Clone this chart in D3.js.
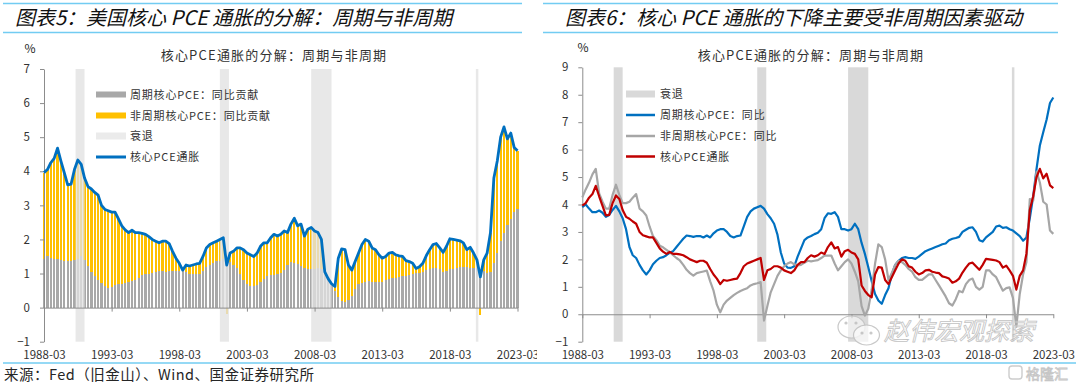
<!DOCTYPE html>
<html>
<head>
<meta charset="utf-8">
<script src="https://cdn.jsdelivr.net/npm/d3@7"></script>
<style>
  body { margin: 0; background: #fff; }
  svg { display: block; }
  text { font-family: "Noto Sans CJK SC", sans-serif; fill: #262626; }
</style>
</head>
<body>
<svg id="canvas"></svg>
<script>
var w = 1080;
var h = 387;

// quarterly observations, 1988-03 ... 2023-03
var corePce = [
  3.96, 4.05, 4.25, 4.38,  4.68, 4.3, 3.95, 3.6,  3.62, 4.05, 4.33, 4.2,  3.8, 3.55, 3.48, 3.38,
  3.3, 3.0, 2.88, 2.84,  2.8, 2.8, 2.6, 2.4,  2.28, 2.2, 2.27, 2.2,  2.2, 2.18, 2.15, 2.08,
  2.0, 1.95, 1.9, 1.95,  1.95, 1.88, 1.65, 1.45,  1.3, 1.1, 1.25, 1.22,  1.25, 1.28, 1.3, 1.5,
  1.75, 1.85, 1.9, 1.95,  2.0, 2.05, 1.25, 1.6,  1.65, 1.75, 1.75, 1.7,  1.6, 1.55, 1.5, 1.6,
  1.8, 1.9, 1.9, 2.05,  2.15, 2.1, 2.15, 2.25,  2.2, 2.45, 2.62, 2.4,  2.45, 2.1, 2.3, 2.35,
  2.25, 2.2, 2.0, 1.05,  0.85, 0.7, 0.62, 1.45,  1.72, 1.7, 1.25, 1.1,  1.35, 1.6, 1.85, 2.0,
  1.95, 1.75, 1.7, 1.55,  1.45, 1.5, 1.6, 1.62,  1.55, 1.52, 1.5, 1.38,  1.35, 1.3, 1.15, 1.2,
  1.3, 1.52, 1.7, 1.85,  1.88, 1.75, 1.62, 1.8,  2.02, 2.0, 1.98, 1.96,  1.9, 1.7, 1.77, 1.6,
  1.4, 0.9, 1.4, 1.6,  2.2, 3.8, 4.3, 5.0,  5.3, 4.95, 5.12, 4.7,  4.6
];
var cycContrib = [
  1.43, 1.5, 1.45, 1.42,  1.42, 1.4, 1.38, 1.38,  1.38, 1.4, 1.43, 1.5,  1.4, 1.23, 1.05, 0.92,
  0.8, 0.72, 0.62, 0.58,  0.6, 0.65, 0.68, 0.7,  0.72, 0.75, 0.78, 0.82,  0.88, 0.95, 0.99, 1.0,
  1.02, 1.04, 1.06, 1.06,  1.05, 1.06, 1.06, 1.06,  1.06, 1.06, 1.04, 1.0,  1.0, 1.0, 1.0, 1.06,
  1.18, 1.25, 1.32, 1.36,  1.38, 1.42, 1.43, 1.35,  1.25, 1.15, 1.0, 0.82,  0.68, 0.62, 0.62, 0.66,
  0.75, 0.85, 0.92, 0.95,  0.97, 0.99, 1.02, 1.1,  1.25, 1.33, 1.32, 1.28,  1.22, 1.15, 1.14, 1.13,
  1.14, 1.15, 1.13, 0.95,  0.85, 0.68, 0.5, 0.32,  0.2, 0.16, 0.22, 0.35,  0.55, 0.68, 0.72, 0.76,
  0.77, 0.76, 0.76, 0.74,  0.75, 0.8, 0.85, 0.87,  0.88, 0.9, 0.92, 0.94,  0.95, 0.98, 1.02, 1.03,
  1.05, 1.1, 1.14, 1.16,  1.17, 1.12, 1.05, 1.08,  1.12, 1.14, 1.16, 1.18,  1.19, 1.18, 1.17, 1.15,
  1.15, 1.11, 1.07, 1.01,  1.05, 1.3, 1.6, 1.95,  2.2, 2.42, 2.6, 2.8,  2.9
];
var cycYoy = [
  3.9, 4.0, 3.85, 3.72,  3.72, 3.78, 3.7, 3.55,  3.62, 3.8, 3.95, 3.75,  3.5, 3.1, 2.45, 2.15,
  2.05, 1.8, 1.6, 1.45,  1.6, 1.82, 1.95, 2.05,  2.08, 2.15, 2.25, 2.3,  2.45, 2.6, 2.75, 2.87,
  2.85, 2.82, 2.85, 2.85,  2.8, 2.87, 2.8, 2.95,  3.05, 3.1, 3.1, 3.0,  2.85, 2.8, 2.85, 2.87,
  3.2, 3.55, 3.75, 3.85,  3.9, 3.95, 3.85, 3.65,  3.5, 3.3, 2.9, 2.25,  1.85, 1.7, 1.69, 1.75,
  2.1, 2.4, 2.7, 2.8,  2.85, 2.92, 2.97, 3.1,  3.5, 3.68, 3.66, 3.72,  3.55, 3.1, 3.1, 3.05,
  3.1, 3.3, 3.1, 2.6,  2.2, 1.71, 1.2, 0.74,  0.5, 0.38, 0.7, 0.95,  1.45, 1.8, 1.95, 2.05,
  2.08, 2.05, 2.05, 2.02,  2.1, 2.2, 2.3, 2.35,  2.4, 2.45, 2.5, 2.55,  2.58, 2.7, 2.75, 2.78,
  2.82, 3.0, 3.08, 3.15,  3.17, 3.0, 2.7, 2.65,  2.8, 2.9, 3.0, 3.2,  3.23, 3.15, 3.17, 3.1,
  3.05, 2.95, 2.85, 2.68,  2.8, 3.5, 4.3, 5.3,  6.15, 6.63, 7.1, 7.7,  7.9
];
var acycYoy = [
  4.26, 4.55, 4.8, 5.1,  5.3, 4.4, 4.1, 3.85,  3.85, 4.35, 4.72, 4.35,  4.05, 4.05, 4.1, 4.25,
  4.38, 3.85, 3.75, 3.6,  3.2, 2.85, 2.7, 2.5,  2.44, 2.35, 2.26, 2.15,  2.05, 1.96, 1.8, 1.62,
  1.5, 1.41, 1.5, 1.53,  1.56, 1.59, 1.2, 0.86,  0.35, 0.07, 0.35, 0.5,  0.6, 0.7, 0.78, 0.85,
  0.9, 0.95, 1.05, 1.1,  1.13, 1.17, -0.23, 0.3,  0.8, 1.1, 1.4, 1.6,  1.75, 1.85, 1.9, 1.82,
  1.78, 1.8, 1.88, 1.95,  1.93, 1.95, 1.97, 2.05,  2.14, 2.14, 2.14, 1.85,  1.6, 1.75, 1.9, 2.0,
  1.85, 1.55, 1.2, 0.3,  -0.05, 0.2, 0.9, 1.84,  2.55, 2.45, 2.0, 1.25,  1.5, 1.8, 1.95, 1.9,
  1.8, 1.65, 1.55, 1.35,  1.25, 1.25, 1.35, 1.45,  1.45, 1.25, 1.05, 0.85,  0.65, 0.4, 0.32, 0.55,
  0.85, 0.8, 1.1, 1.25,  1.3, 1.0, 0.9, 1.0,  1.6, 1.6, 1.45, 1.35,  1.1, 0.86, 0.95, 0.98,
  0.6, -0.45, 0.74, 1.45,  1.9, 4.2, 4.14, 5.2,  4.8, 4.1, 4.0, 3.05,  2.93
];

var xTickLabels = ["1988-03", "1993-03", "1998-03", "2003-03", "2008-03", "2013-03", "2018-03", "2023-03"];
var yTicksL = [-1, 0, 1, 2, 3, 4, 5, 6, 7];
var yTicksR = [-1, 0, 1, 2, 3, 4, 5, 6, 7, 8, 9];
var recessions = [["1990-07", "1991-03"], ["2001-03", "2001-11"], ["2007-12", "2009-06"], ["2020-02", "2020-04"]];

var legendL = ["周期核心PCE：同比贡献", "非周期核心PCE：同比贡献", "衰退", "核心PCE通胀"];
var legendR = ["衰退", "周期核心PCE：同比", "非周期核心PCE：同比", "核心PCE通胀"];

var parseYM = d3.timeParse("%Y-%m");
var dates = corePce.map(function (d, i) { return new Date(1988, 2 + 3 * i, 1); });
var acycContrib = corePce.map(function (d, i) { return d - cycContrib[i]; });

var numFont = '"Liberation Sans", Arial, sans-serif';
var axisCol = "#8c8c8c";
var lineBlue = "#0070c0";
var labelTop = 351.3; // top of the date labels under both panels

var svg = d3.select("#canvas")
  .attr("width", w)
  .attr("height", h)
  .attr("viewBox", [0, 0, w, h]);

var defs = svg.append("defs");
defs.append("clipPath").attr("id", "clipL")
  .append("rect").attr("x", 0).attr("y", 0).attr("width", 537).attr("height", h);
defs.append("clipPath").attr("id", "clipR")
  .append("rect").attr("x", 540).attr("y", 0).attr("width", 537).attr("height", h);

// header / footer rules
var rules = [[3, 3.5, 522], [3, 32.5, 522], [543, 3.5, 1058], [543, 32.5, 1058], [3, 363, 1076]];
svg.selectAll(".rule").data(rules).enter().append("line")
  .attr("x1", d => d[0]).attr("x2", d => d[2])
  .attr("y1", d => d[1]).attr("y2", d => d[1])
  .attr("stroke", "#72ccf2").attr("stroke-width", 1.3);

svg.append("text").attr("x", 15).attr("y", 25)
  .attr("font-size", 20).attr("font-style", "italic").style("fill", "#111")
  .text("图表5：美国核心 PCE 通胀的分解：周期与非周期");
svg.append("text").attr("x", 565).attr("y", 25)
  .attr("font-size", 20).attr("font-style", "italic").style("fill", "#111")
  .text("图表6：核心 PCE 通胀的下降主要受非周期因素驱动");

svg.append("text").attr("x", 4).attr("y", 380).attr("font-size", 14.5).attr("letter-spacing", 0.5)
  .text("来源：Fed（旧金山）、Wind、国金证券研究所");

function styleAxis(g) {
  g.attr("font-family", numFont).attr("font-size", 11.5).attr("color", axisCol);
  g.selectAll("text").style("fill", "#333");
  g.selectAll("path, line").attr("stroke", axisCol);
}

// ---------- left panel ----------
var gL = svg.append("g").attr("clip-path", "url(#clipL)");
var xL = d3.scaleTime().domain([parseYM("1988-03"), parseYM("2023-03")]).range([44, 517.5]);
var yL = d3.scaleLinear().domain([-1, 7]).range([341.7, 69]);
var bw = (xL(dates[1]) - xL(dates[0])) * 0.66;

gL.selectAll(".cyc").data(dates).enter().append("rect")
  .attr("x", d => xL(d) - bw / 2)
  .attr("width", bw)
  .attr("y", (d, i) => yL(cycContrib[i]))
  .attr("height", (d, i) => yL(0) - yL(cycContrib[i]))
  .attr("fill", "#a8a8a8")
  .attr("shape-rendering", "crispEdges");

gL.selectAll(".acyc").data(dates).enter().append("rect")
  .attr("x", d => xL(d) - bw / 2)
  .attr("width", bw)
  .attr("y", (d, i) => acycContrib[i] >= 0 ? yL(cycContrib[i] + acycContrib[i]) : yL(0))
  .attr("height", (d, i) => acycContrib[i] >= 0
    ? yL(cycContrib[i]) - yL(cycContrib[i] + acycContrib[i])
    : yL(acycContrib[i]) - yL(0))
  .attr("fill", "#ffc000")
  .attr("shape-rendering", "crispEdges");

gL.selectAll(".recL").data(recessions).enter().append("rect")
  .attr("x", d => xL(parseYM(d[0])))
  .attr("width", d => Math.max(2.5, xL(parseYM(d[1])) - xL(parseYM(d[0]))))
  .attr("y", yL(7))
  .attr("height", yL(-1) - yL(7))
  .attr("fill", "#e2e2e2")
  .attr("opacity", 0.78);

gL.append("g").attr("transform", "translate(44,0)")
  .call(d3.axisLeft(yL).tickValues(yTicksL).tickSize(4).tickSizeOuter(0).tickPadding(10))
  .call(styleAxis);

gL.append("g").attr("transform", "translate(0," + yL(0) + ")")
  .call(d3.axisBottom(xL).tickValues(xTickLabels.map(parseYM))
    .tickFormat(d3.timeFormat("%Y-%m")).tickSize(4).tickSizeOuter(0)
    .tickPadding(labelTop - yL(0) - 4))
  .call(styleAxis);

gL.append("path")
  .datum(corePce)
  .attr("fill", "none")
  .attr("stroke", lineBlue)
  .attr("stroke-width", 2.8)
  .attr("stroke-linejoin", "round")
  .attr("d", d3.line().x((d, i) => xL(dates[i])).y(d => yL(d)));

svg.append("text").attr("x", 30).attr("y", 53).attr("text-anchor", "middle")
  .attr("font-family", numFont).attr("font-size", 12).text("%");
svg.append("text").attr("x", 274).attr("y", 60).attr("text-anchor", "middle")
  .attr("font-size", 13).attr("letter-spacing", 1.2).style("fill", "#333")
  .text("核心PCE通胀的分解：周期与非周期");

var legRowsL = [94.5, 115.5, 136, 157];
var legSwL = [
  { fill: "#a8a8a8", hh: 6 },
  { fill: "#ffc000", hh: 6 },
  { fill: "#ebebeb", hh: 7 },
  { fill: lineBlue, hh: 3 }
];
legendL.forEach(function (t, i) {
  svg.append("rect").attr("x", 96).attr("width", 30)
    .attr("y", legRowsL[i] - legSwL[i].hh / 2).attr("height", legSwL[i].hh)
    .attr("fill", legSwL[i].fill);
  svg.append("text").attr("x", 130).attr("y", legRowsL[i] + 4)
    .attr("font-size", 11).attr("letter-spacing", 0.8).style("fill", "#333").text(t);
});

// ---------- right panel ----------
var gR = svg.append("g").attr("clip-path", "url(#clipR)");
var xR = d3.scaleTime().domain([parseYM("1988-03"), parseYM("2023-03")]).range([582.3, 1053.3]);
var yR = d3.scaleLinear().domain([-1, 9]).range([341.7, 67.3]);

gR.selectAll(".recR").data(recessions).enter().append("rect")
  .attr("x", d => xR(parseYM(d[0])))
  .attr("width", d => Math.max(2.5, xR(parseYM(d[1])) - xR(parseYM(d[0]))))
  .attr("y", yR(9))
  .attr("height", yR(-1) - yR(9))
  .attr("fill", "#d9d9d9");

gR.append("g").attr("transform", "translate(582.3,0)")
  .call(d3.axisLeft(yR).tickValues(yTicksR).tickSize(4).tickSizeOuter(0).tickPadding(10))
  .call(styleAxis);

gR.append("g").attr("transform", "translate(0," + yR(0) + ")")
  .call(d3.axisBottom(xR).tickValues(xTickLabels.map(parseYM))
    .tickFormat(d3.timeFormat("%Y-%m")).tickSize(4).tickSizeOuter(0)
    .tickPadding(labelTop - yR(0) - 4))
  .call(styleAxis);

var seriesR = [
  { values: cycYoy, color: lineBlue },
  { values: acycYoy, color: "#a6a6a6" },
  { values: corePce, color: "#c00000" }
];
seriesR.forEach(function (s) {
  gR.append("path")
    .datum(s.values)
    .attr("fill", "none")
    .attr("stroke", s.color)
    .attr("stroke-width", 2.2)
    .attr("stroke-linejoin", "round")
    .attr("d", d3.line().x((d, i) => xR(dates[i])).y(d => yR(d)));
});

svg.append("text").attr("x", 583).attr("y", 52).attr("text-anchor", "middle")
  .attr("font-family", numFont).attr("font-size", 12).text("%");
svg.append("text").attr("x", 811).attr("y", 60).attr("text-anchor", "middle")
  .attr("font-size", 13).attr("letter-spacing", 1.2).style("fill", "#333")
  .text("核心PCE通胀的分解：周期与非周期");

var legRowsR = [94, 115, 136, 156.5];
var legSwR = [
  { fill: "#d9d9d9", hh: 7 },
  { fill: lineBlue, hh: 2.5 },
  { fill: "#a6a6a6", hh: 2.5 },
  { fill: "#c00000", hh: 2.5 }
];
legendR.forEach(function (t, i) {
  svg.append("rect").attr("x", 626).attr("width", 29)
    .attr("y", legRowsR[i] - legSwR[i].hh / 2).attr("height", legSwR[i].hh)
    .attr("fill", legSwR[i].fill);
  svg.append("text").attr("x", 660).attr("y", legRowsR[i] + 4)
    .attr("font-size", 11).attr("letter-spacing", 0.8).style("fill", "#333").text(t);
});

// ---------- watermark ----------
var wm = svg.append("g").attr("opacity", 0.9);
wm.append("ellipse").attr("cx", 851.5).attr("cy", 327).attr("rx", 13.5).attr("ry", 11)
  .attr("fill", "rgba(255,255,255,0.6)").attr("stroke", "#c4c4c4").attr("stroke-width", 1.2);
wm.append("ellipse").attr("cx", 866.5).attr("cy", 335).attr("rx", 13).attr("ry", 10)
  .attr("fill", "rgba(255,255,255,0.75)").attr("stroke", "#c4c4c4").attr("stroke-width", 1.2);
[[846, 323], [856, 323], [862, 333], [871, 333]].forEach(function (p) {
  wm.append("circle").attr("cx", p[0]).attr("cy", p[1]).attr("r", 1.6).attr("fill", "#c4c4c4");
});
wm.append("text").attr("x", 884).attr("y", 340).attr("font-size", 25)
  .attr("font-style", "italic")
  .style("fill", "rgba(255,255,255,0.55)").attr("stroke", "#bcbcbc").attr("stroke-width", 0.8)
  .text("赵伟宏观探索");

wm.append("rect").attr("x", 1009).attr("y", 366).attr("width", 13).attr("height", 13).attr("rx", 3)
  .attr("fill", "none").attr("stroke", "#c8c8c8").attr("stroke-width", 1.4);
wm.append("text").attr("x", 1026).attr("y", 378.5).attr("font-size", 14)
  .style("fill", "#fff").attr("stroke", "#c0c0c0").attr("stroke-width", 0.8)
  .text("格隆汇");
</script>
</body>
</html>
